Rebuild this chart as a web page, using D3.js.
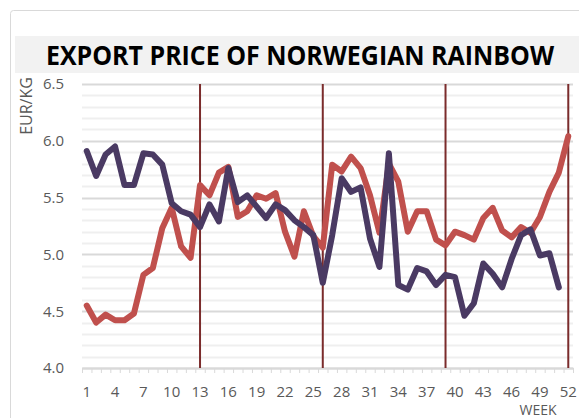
<!DOCTYPE html>
<html>
<head>
<meta charset="utf-8">
<script src="https://cdn.jsdelivr.net/npm/d3@7"></script>
<style>
  body { margin: 0; background: #fff; }
  text { font-family: "Open Sans", "Liberation Sans", sans-serif; }
</style>
</head>
<body>
<script>
// Semanas y precios (EUR/KG)
const weeks = d3.range(1, 53);
const redSeries = [4.55, 4.40, 4.47, 4.42, 4.42, 4.48, 4.82, 4.88, 5.23, 5.41,
  5.07, 4.97, 5.61, 5.52, 5.72, 5.77, 5.33, 5.38, 5.52, 5.49,
  5.54, 5.20, 4.98, 5.38, 5.16, 5.06, 5.79, 5.73, 5.86, 5.76,
  5.52, 5.19, 5.80, 5.64, 5.20, 5.38, 5.38, 5.13, 5.08, 5.20,
  5.17, 5.13, 5.32, 5.41, 5.21, 5.15, 5.24, 5.19, 5.33, 5.55,
  5.72, 6.04];
const purpleSeries = [5.91, 5.69, 5.88, 5.95, 5.61, 5.61, 5.89, 5.88, 5.79, 5.45,
  5.38, 5.35, 5.24, 5.44, 5.29, 5.76, 5.46, 5.52, 5.42, 5.32,
  5.44, 5.39, 5.30, 5.24, 5.17, 4.75, 5.17, 5.67, 5.55, 5.59,
  5.14, 4.89, 5.89, 4.73, 4.69, 4.88, 4.85, 4.73, 4.82, 4.80,
  4.46, 4.57, 4.92, 4.83, 4.71, 4.96, 5.17, 5.22, 4.99, 5.01,
  4.71, null];
const quarterWeeks = [13, 26, 39, 52];
const yTicks = [4.0, 4.5, 5.0, 5.5, 6.0, 6.5];

const W = 579, H = 418;
const svg = d3.select("body").append("svg")
  .attr("width", W)
  .attr("height", H);

// Marco y banda del titulo
svg.append("rect")
  .attr("x", 10.5).attr("y", 10.5)
  .attr("width", 600).attr("height", 440)
  .attr("rx", 3)
  .attr("fill", "#fff")
  .attr("stroke", "#d9d9d9");

svg.append("rect")
  .attr("x", 15).attr("y", 36)
  .attr("width", 580).attr("height", 37)
  .attr("fill", "#f2f2f2");

svg.append("text")
  .attr("x", 300).attr("y", 65)
  .attr("text-anchor", "middle")
  .attr("font-size", 27)
  .attr("font-weight", "bold")
  .attr("fill", "#000")
  .attr("textLength", 508)
  .attr("lengthAdjust", "spacingAndGlyphs")
  .text("EXPORT PRICE OF NORWEGIAN RAINBOW");

// Escalas
const plotLeft = 82, plotRight = 573, plotTop = 84, plotBottom = 368;
const x = d3.scaleBand().domain(weeks).range([plotLeft, plotRight]);
const xEdge = d3.scaleLinear().domain([0, 52]).range([plotLeft, plotRight]);
const y = d3.scaleLinear().domain([4, 6.5]).range([plotBottom, plotTop]);
const cx = d => x(d) + x.bandwidth() / 2;

// Lineas de cuadricula (cada 0.1, mas oscuras cada 0.5)
svg.append("g")
  .selectAll("line")
  .data(y.ticks(25))
  .join("line")
  .attr("x1", plotLeft).attr("x2", plotRight)
  .attr("y1", d => Math.round(y(d)) + 0.5)
  .attr("y2", d => Math.round(y(d)) + 0.5)
  .attr("stroke", d => yTicks.some(t => Math.abs(t - d) < 1e-6) ? "#d9d9d9" : "#efefef")
  .attr("stroke-width", 2);

// Eje X: marcas entre semanas
svg.append("g")
  .attr("transform", `translate(0,${plotBottom})`)
  .call(d3.axisBottom(xEdge).ticks(52).tickFormat("").tickSize(5).tickSizeOuter(0))
  .call(g => g.selectAll("line").attr("stroke", "#d9d9d9"))
  .call(g => g.select(".domain").attr("stroke", "#d9d9d9").attr("stroke-width", 2));

// Eje X: etiquetas cada 3 semanas
svg.append("g")
  .attr("transform", `translate(0,${plotBottom})`)
  .call(d3.axisBottom(x).tickValues(weeks.filter(w => (w - 1) % 3 === 0)).tickSize(0).tickPadding(18))
  .call(g => g.select(".domain").remove())
  .call(g => g.selectAll("text")
    .attr("font-size", 15)
    .attr("fill", "#595959")
    .style("font-family", "'Open Sans', sans-serif"));

svg.append("text")
  .attr("x", 538).attr("y", 415)
  .attr("text-anchor", "middle")
  .attr("font-size", 14)
  .attr("fill", "#595959")
  .text("WEEK");

// Eje Y
svg.append("g")
  .attr("transform", `translate(${plotLeft},0)`)
  .call(d3.axisLeft(y).tickValues(yTicks).tickFormat(d3.format(".1f")).tickSize(0).tickPadding(18))
  .call(g => g.select(".domain").remove())
  .call(g => g.selectAll("text")
    .attr("font-size", 15)
    .attr("fill", "#595959")
    .style("font-family", "'Open Sans', sans-serif"));

svg.append("text")
  .attr("transform", "translate(32,106) rotate(-90)")
  .attr("text-anchor", "middle")
  .attr("font-size", 16)
  .attr("fill", "#595959")
  .text("EUR/KG");

// Lineas verticales de trimestre
svg.append("g")
  .selectAll("line")
  .data(quarterWeeks)
  .join("line")
  .attr("x1", cx).attr("x2", cx)
  .attr("y1", plotTop).attr("y2", plotBottom)
  .attr("stroke", "#7b2c2c")
  .attr("stroke-width", 2);

// Series
const line = series => d3.line()
  .defined(d => series[d - 1] != null)
  .x(cx)
  .y(d => y(series[d - 1]));

svg.append("path")
  .datum(weeks)
  .attr("fill", "none")
  .attr("stroke", "#c0504d")
  .attr("stroke-width", 6)
  .attr("stroke-linejoin", "round")
  .attr("stroke-linecap", "round")
  .attr("d", line(redSeries));

svg.append("path")
  .datum(weeks)
  .attr("fill", "none")
  .attr("stroke", "#4a3a63")
  .attr("stroke-width", 6)
  .attr("stroke-linejoin", "round")
  .attr("stroke-linecap", "round")
  .attr("d", line(purpleSeries));
</script>
</body>
</html>
